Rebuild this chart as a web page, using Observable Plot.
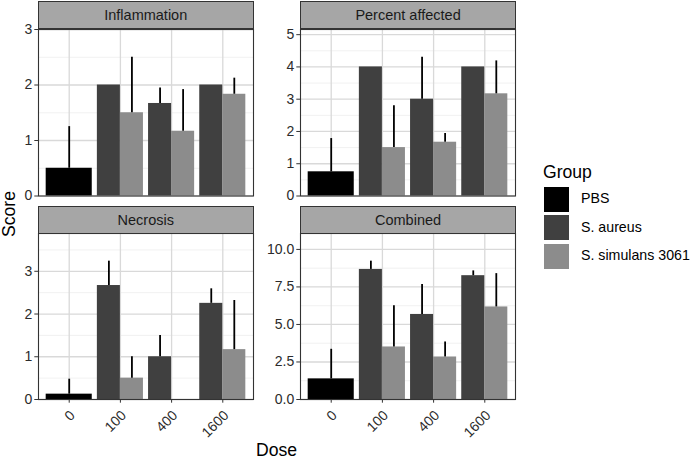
<!DOCTYPE html>
<html>
<head>
<meta charset="utf-8">
<script src="https://cdn.jsdelivr.net/npm/d3@7"></script>
<script src="https://cdn.jsdelivr.net/npm/@observablehq/plot@0.6"></script>
<style>
  body { margin: 0; background: #fff; }
  #chart { position: relative; width: 690px; height: 459px; background: #fff; font-family: "Liberation Sans", Arial, sans-serif; overflow: hidden; }
  .abs { position: absolute; }
  .strip { position: absolute; box-sizing: border-box; background: #a6a6a6; border: 1.1px solid #333; color: #1a1a1a; font-size: 14.5px; display: flex; align-items: center; justify-content: center; }
  .title { position: absolute; color: #000; font-size: 17.6px; line-height: 1; white-space: nowrap; }
  .key { position: absolute; width: 27px; height: 27px; box-sizing: border-box; border: 1px solid #fff; }
  .klab { position: absolute; font-size: 14.2px; line-height: 1.1; color: #000; white-space: nowrap; }
</style>
</head>
<body>
<div id="chart"></div>
<script>
// ---- data ----
const doses = ["0", "100", "400", "1600"];
const groups = ["PBS", "S. aureus", "S. simulans 3061"];
const groupColors = ["#000000", "#404040", "#8c8c8c"];
const rowDose  = ["0", "100", "100", "400", "400", "1600", "1600"];
const rowGroup = ["PBS", "S. aureus", "S. simulans 3061", "S. aureus", "S. simulans 3061", "S. aureus", "S. simulans 3061"];

const inflammationMean = [0.5, 2.0, 1.5, 1.667, 1.167, 2.0, 1.833];
const inflammationSD   = [0.75, 0, 1.0, 0.28, 0.75, 0, 0.29];
const percentMean = [0.75, 4.0, 1.5, 3.0, 1.667, 4.0, 3.167];
const percentSD   = [1.03, 0, 1.3, 1.3, 0.27, 0, 1.02];
const necrosisMean = [0.125, 2.667, 0.5, 1.0, 0.0, 2.25, 1.167];
const necrosisSD   = [0.35, 0.57, 0.5, 0.5, 0, 0.34, 1.15];
const combinedMean = [1.375, 8.667, 3.5, 5.667, 2.833, 8.25, 6.167];
const combinedSD   = [1.97, 0.55, 2.75, 2.0, 1.0, 0.32, 2.22];

const inflammationTicks = [0, 1, 2, 3];
const percentTicks = [0, 1, 2, 3, 4, 5];
const necrosisTicks = [0, 1, 2, 3];
const combinedTicks = [0, 2.5, 5, 7.5, 10];

// ---- build rows with dodge positions ----
function buildRows(means, sds) {
  const rows = means.map((m, i) => ({dose: rowDose[i], group: rowGroup[i], mean: m, sd: sds[i]}));
  for (const d of doses) {
    const sub = rows.filter(r => r.dose === d);
    const idx = doses.indexOf(d);
    const w = 0.9 / sub.length;
    sub.forEach((r, k) => {
      r.x1 = idx - 0.45 + k * w;
      r.x2 = r.x1 + w;
      r.xc = (r.x1 + r.x2) / 2;
      r.top = r.mean + r.sd;
    });
  }
  return rows;
}

const chart = document.getElementById("chart");

function panel({name, means, sds, ticks, fmt, left, top, areaH, bottom}) {
  const rows = buildRows(means, sds);
  const ymax = d3.max(rows, r => r.top) * 1.2;
  const step = ticks[1] - ticks[0];
  const minor = d3.range(ticks[0] + step / 2, ymax, step);
  const mt = 2, mr = 2, ml = 38, areaW = 215;
  const mb = bottom ? 50 : 6;
  const xIdx = doses.map((d, i) => i);
  const marks = [
    Plot.gridY(minor, {stroke: "#ebebeb", strokeOpacity: 1, strokeWidth: 0.7}),
    Plot.gridY(ticks, {stroke: "#d9d9d9", strokeOpacity: 1, strokeWidth: 1.3}),
    Plot.gridX(xIdx, {stroke: "#d9d9d9", strokeOpacity: 1, strokeWidth: 1.3}),
    Plot.rect(rows, {x1: "x1", x2: "x2", y1: 0, y2: "mean", fill: "group"}),
    Plot.ruleX(rows.filter(r => r.sd > 0), {x: "xc", y1: "mean", y2: "top", stroke: "#000", strokeWidth: 1.8}),
    Plot.frame({stroke: "#333", strokeWidth: 1.1}),
    Plot.axisY(ticks, {tickSize: 3.7, tickPadding: 2.5, tickFormat: fmt, fontSize: 14, stroke: "#333", fill: "#2b2b2b", label: null})
  ];
  if (bottom) {
    marks.push(Plot.axisX(xIdx, {tickSize: 3.7, tickFormat: () => "", stroke: "#333", label: null}));
    marks.push(Plot.axisX(xIdx, {tickSize: 0, tickPadding: 5.5, tickRotate: -45, tickFormat: i => doses[i], fontSize: 14, fill: "#2b2b2b", label: null, dx: 3.5, dy: 8}));
  }
  const svg = Plot.plot({
    width: ml + areaW + mr, height: mt + areaH + mb,
    marginLeft: ml, marginRight: mr, marginTop: mt, marginBottom: mb,
    style: {fontFamily: "'Liberation Sans', Arial, sans-serif", background: "transparent", overflow: "visible", color: "#333"},
    x: {type: "linear", domain: [-0.6, 3.6], axis: bottom ? undefined : null},
    y: {domain: [0, ymax]},
    color: {domain: groups, range: groupColors},
    marks
  });
  const wrap = document.createElement("div");
  wrap.className = "abs";
  wrap.style.left = (left - ml) + "px";
  wrap.style.top = (top - mt) + "px";
  wrap.appendChild(svg);
  chart.appendChild(wrap);
  const strip = document.createElement("div");
  strip.className = "strip";
  strip.style.left = left + "px";
  strip.style.top = (top - 27.5) + "px";
  strip.style.width = (areaW + 0.5) + "px";
  strip.style.height = "28px";
  strip.textContent = name;
  chart.appendChild(strip);
}

const fmtInt = d => d3.format("d")(d);
const fmt1 = d => d3.format(".1f")(d);

panel({name: "Inflammation", means: inflammationMean, sds: inflammationSD, ticks: inflammationTicks, fmt: fmtInt, left: 38, top: 28.5, areaH: 166.5, bottom: false});
panel({name: "Percent affected", means: percentMean, sds: percentSD, ticks: percentTicks, fmt: fmtInt, left: 300.3, top: 28.5, areaH: 166.5, bottom: false});
panel({name: "Necrosis", means: necrosisMean, sds: necrosisSD, ticks: necrosisTicks, fmt: fmtInt, left: 38, top: 233.3, areaH: 166, bottom: true});
panel({name: "Combined", means: combinedMean, sds: combinedSD, ticks: combinedTicks, fmt: fmt1, left: 300.3, top: 233.3, areaH: 166, bottom: true});

// axis titles
const score = document.createElement("div");
score.className = "title";
score.textContent = "Score";
score.style.left = "9.5px";
score.style.top = "214px";
score.style.transform = "translate(-50%, -50%) rotate(-90deg)";
chart.appendChild(score);

const dose = document.createElement("div");
dose.className = "title";
dose.textContent = "Dose";
dose.style.left = "276.5px";
dose.style.top = "451px";
dose.style.transform = "translate(-50%, -50%)";
chart.appendChild(dose);

// legend
const lt = document.createElement("div");
lt.className = "title";
lt.textContent = "Group";
lt.style.left = "543px";
lt.style.top = "164px";
chart.appendChild(lt);
const keyTops = [185.5, 214, 242.5];
groups.forEach((g, i) => {
  const k = document.createElement("div");
  k.className = "key";
  k.style.left = "543px";
  k.style.top = keyTops[i] + "px";
  k.style.background = groupColors[i];
  chart.appendChild(k);
  const l = document.createElement("div");
  l.className = "klab";
  l.textContent = g;
  l.style.left = "581px";
  l.style.top = (keyTops[i] + 13.5) + "px";
  l.style.transform = "translateY(-50%)";
  chart.appendChild(l);
});
</script>
</body>
</html>
